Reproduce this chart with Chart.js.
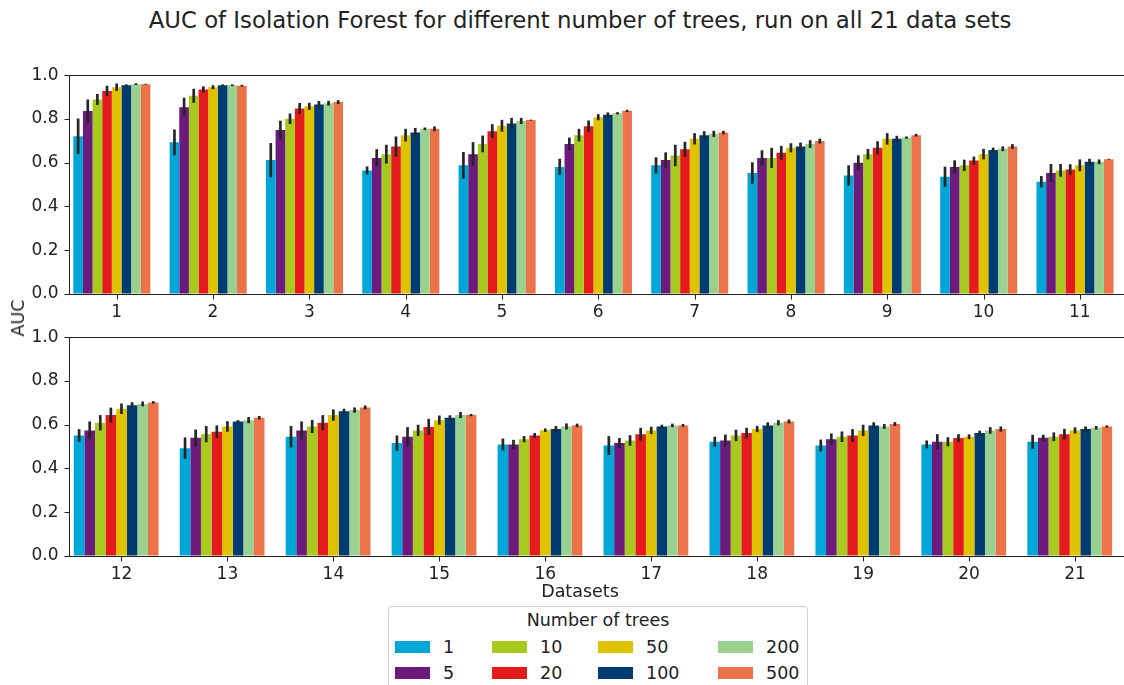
<!DOCTYPE html>
<html>
<head>
<meta charset="utf-8">
<script src="https://cdn.jsdelivr.net/npm/chart.js@4.4.1/dist/chart.umd.min.js"></script>
<style>
body { margin:0; background:#fff; font-family:"DejaVu Sans", sans-serif; color:#222; }
#page { position:relative; width:1124px; height:685px; overflow:hidden; background:#fff; }
.abs { position:absolute; }
#title { left:0; top:9px; width:1160px; text-align:center; font-size:22.8px; line-height:23px; }
#topWrap { left:0; top:60px; }
#bottomWrap { left:0; top:322px; }
#ylabel { left:18px; top:318px; font-size:17.5px; transform:translate(-50%,-50%) rotate(-90deg); white-space:nowrap; }
#xlabel { left:0; top:583px; width:1160px; text-align:center; font-size:17.5px; line-height:17px; }
#legend { left:388px; top:606px; width:420px; height:100px; border:1px solid #d0d0d0; border-radius:4px; box-sizing:border-box; }
#legendTitle { position:absolute; left:0; top:5px; width:100%; text-align:center; font-size:17.5px; line-height:17px; }
.entry { position:absolute; height:12px; display:flex; align-items:center; font-size:17.5px; }
.swatch { width:35px; height:12px; margin-right:13px; }
</style>
</head>
<body>
<div id="page">
  <div class="abs" id="title">AUC of Isolation Forest for different number of trees, run on all 21 data sets</div>
  <div class="abs" id="topWrap"><canvas id="topChart" width="1140" height="270"></canvas></div>
  <div class="abs" id="bottomWrap"><canvas id="bottomChart" width="1140" height="270"></canvas></div>
  <div class="abs" id="ylabel">AUC</div>
  <div class="abs" id="xlabel">Datasets</div>
  <div class="abs" id="legend"><div id="legendTitle">Number of trees</div></div>
</div>
<script>
// data sets 1..21
const datasetNames = Array.from({length: 21}, (_, i) => String(i + 1));
const treeCounts = ["1", "5", "10", "20", "50", "100", "200", "500"];
const treeColors = ["#00a6d6", "#6d1a7d", "#a8c91e", "#e41b1d", "#e0c300", "#003b71", "#9bd18f", "#ec7249"];

// mean AUC per number of trees
const auc1   = [0.721, 0.693, 0.612, 0.565, 0.588, 0.581, 0.588, 0.553, 0.542, 0.536, 0.513, 0.551, 0.493, 0.545, 0.516, 0.510, 0.505, 0.522, 0.505, 0.510, 0.522];
const auc5   = [0.836, 0.854, 0.749, 0.622, 0.639, 0.686, 0.612, 0.622, 0.600, 0.581, 0.553, 0.574, 0.540, 0.574, 0.545, 0.510, 0.516, 0.528, 0.534, 0.522, 0.540];
const auc10  = [0.889, 0.906, 0.801, 0.639, 0.686, 0.726, 0.633, 0.622, 0.639, 0.588, 0.565, 0.609, 0.557, 0.592, 0.574, 0.534, 0.528, 0.551, 0.545, 0.522, 0.545];
const auc20  = [0.928, 0.935, 0.848, 0.674, 0.744, 0.767, 0.662, 0.645, 0.668, 0.610, 0.569, 0.644, 0.568, 0.609, 0.590, 0.551, 0.557, 0.562, 0.551, 0.539, 0.557];
const auc50  = [0.945, 0.945, 0.858, 0.726, 0.769, 0.808, 0.709, 0.668, 0.709, 0.639, 0.588, 0.673, 0.592, 0.644, 0.621, 0.575, 0.574, 0.580, 0.574, 0.545, 0.574];
const auc100 = [0.954, 0.954, 0.866, 0.738, 0.779, 0.819, 0.726, 0.674, 0.709, 0.658, 0.604, 0.689, 0.615, 0.661, 0.632, 0.580, 0.592, 0.597, 0.597, 0.562, 0.580];
const auc200 = [0.959, 0.954, 0.872, 0.755, 0.791, 0.826, 0.732, 0.685, 0.715, 0.664, 0.604, 0.695, 0.621, 0.667, 0.644, 0.592, 0.597, 0.609, 0.592, 0.574, 0.586];
const auc500 = [0.959, 0.952, 0.877, 0.755, 0.795, 0.837, 0.738, 0.699, 0.726, 0.674, 0.616, 0.702, 0.632, 0.679, 0.644, 0.597, 0.597, 0.615, 0.603, 0.580, 0.592];

// half length of the confidence interval
const ci1   = [0.081, 0.059, 0.078, 0.018, 0.061, 0.037, 0.037, 0.049, 0.046, 0.046, 0.026, 0.029, 0.049, 0.049, 0.035, 0.027, 0.043, 0.023, 0.027, 0.018, 0.032];
const ci5   = [0.053, 0.043, 0.043, 0.040, 0.055, 0.029, 0.035, 0.035, 0.034, 0.030, 0.041, 0.041, 0.038, 0.041, 0.044, 0.021, 0.023, 0.027, 0.026, 0.035, 0.014];
const ci10  = [0.025, 0.032, 0.024, 0.043, 0.038, 0.029, 0.049, 0.046, 0.024, 0.026, 0.029, 0.035, 0.037, 0.030, 0.026, 0.014, 0.024, 0.026, 0.024, 0.021, 0.020];
const ci20  = [0.024, 0.014, 0.025, 0.046, 0.032, 0.026, 0.034, 0.032, 0.030, 0.018, 0.024, 0.034, 0.029, 0.035, 0.037, 0.011, 0.029, 0.024, 0.029, 0.018, 0.024];
const ci50  = [0.017, 0.009, 0.016, 0.029, 0.027, 0.014, 0.026, 0.021, 0.026, 0.024, 0.027, 0.024, 0.024, 0.026, 0.021, 0.008, 0.017, 0.014, 0.026, 0.011, 0.014];
const ci100 = [0.004, 0.004, 0.016, 0.021, 0.026, 0.011, 0.018, 0.018, 0.014, 0.011, 0.014, 0.014, 0.006, 0.012, 0.011, 0.014, 0.008, 0.014, 0.014, 0.011, 0.012];
const ci200 = [0.004, 0.004, 0.011, 0.006, 0.014, 0.005, 0.014, 0.018, 0.005, 0.011, 0.011, 0.011, 0.014, 0.012, 0.014, 0.014, 0.008, 0.012, 0.011, 0.015, 0.008];
const ci500 = [0.002, 0.004, 0.009, 0.011, 0.002, 0.005, 0.008, 0.011, 0.006, 0.011, 0.002, 0.006, 0.008, 0.009, 0.005, 0.008, 0.006, 0.009, 0.009, 0.012, 0.005];

const yTicks = [0, 0.2, 0.4, 0.6, 0.8, 1.0];

const aucSeries = [auc1, auc5, auc10, auc20, auc50, auc100, auc200, auc500];
const ciSeries  = [ci1, ci5, ci10, ci20, ci50, ci100, ci200, ci500];

// the hue groups sit half a bar left of their tick (old seaborn layout)
const groupWidth = 0.8;
const tickShift = groupWidth / treeCounts.length / 2;
const tickLen = 5;

Chart.defaults.font.family = "'DejaVu Sans', sans-serif";
Chart.defaults.color = "#222";

// error bars, tick marks and the axes frame
const errorBars = {
  id: "errorBars",
  afterDatasetsDraw(chart) {
    const ctx = chart.ctx;
    const x = chart.scales.x, y = chart.scales.y;
    const a = chart.chartArea;
    ctx.save();
    ctx.strokeStyle = "#262626";
    ctx.lineWidth = 2.7;
    chart.data.datasets.forEach((ds, i) => {
      const meta = chart.getDatasetMeta(i);
      meta.data.forEach((bar, j) => {
        const v = ds.data[j].y, e = ds.ci[j];
        ctx.beginPath();
        ctx.moveTo(bar.x, y.getPixelForValue(v + e));
        ctx.lineTo(bar.x, y.getPixelForValue(v - e));
        ctx.stroke();
      });
    });

    ctx.strokeStyle = "#222";
    ctx.lineWidth = 1;
    const left = Math.round(a.left) + 0.5, bottom = Math.round(a.bottom) + 0.5;
    ctx.beginPath();
    x.ticks.forEach(t => {
      const px = Math.round(x.getPixelForValue(t.value)) + 0.5;
      ctx.moveTo(px, bottom);
      ctx.lineTo(px, bottom + tickLen);
    });
    y.ticks.forEach(t => {
      const py = Math.round(y.getPixelForValue(t.value)) + 0.5;
      ctx.moveTo(left - tickLen, py);
      ctx.lineTo(left, py);
    });
    ctx.stroke();
    ctx.strokeRect(left, Math.round(a.top) + 0.5,
                   Math.round(a.right - a.left), Math.round(a.bottom - a.top));
    ctx.restore();
  }
};

// space for the tick marks is kept by the grid, the marks themselves come from the plugin
const hiddenGrid = { display: true, offset: false, drawOnChartArea: false, drawTicks: true, tickLength: tickLen, tickColor: "rgba(0,0,0,0)" };

function makeChart(id, from, to) {
  const names = datasetNames.slice(from, to);
  return new Chart(document.getElementById(id), {
    type: "bar",
    data: {
      datasets: treeCounts.map((t, i) => ({
        label: t,
        data: aucSeries[i].slice(from, to).map((v, j) => ({ x: j, y: v })),
        ci: ciSeries[i].slice(from, to),
        backgroundColor: treeColors[i],
        borderWidth: 0,
        categoryPercentage: groupWidth,
        barPercentage: 1.0
      }))
    },
    options: {
      responsive: false,
      animation: false,
      devicePixelRatio: 1,
      layout: { padding: { top: 15, right: 12, left: 0, bottom: 0 } },
      plugins: { legend: { display: false }, tooltip: { enabled: false } },
      scales: {
        x: {
          type: "linear",
          offset: false,
          min: -0.5 + tickShift,
          max: names.length - 0.5 + tickShift,
          border: { display: false },
          grid: hiddenGrid,
          afterBuildTicks(scale) { scale.ticks = names.map((n, j) => ({ value: j + tickShift })); },
          ticks: { font: { size: 17 }, padding: 3, maxRotation: 0, callback: (v, idx) => names[idx] },
          afterFit(scale) { scale.height = 36; }
        },
        y: {
          min: 0, max: 1,
          border: { display: false },
          grid: hiddenGrid,
          afterBuildTicks(scale) { scale.ticks = yTicks.map(v => ({ value: v })); },
          ticks: { font: { size: 17 }, padding: 5, callback: v => v.toFixed(1) },
          afterFit(scale) { scale.width = 68.5; }
        }
      }
    },
    plugins: [errorBars]
  });
}

makeChart("topChart", 0, 11);
makeChart("bottomChart", 11, 21);

// legend: two rows, filled column by column
const colLeft = [6, 103, 209, 329];
const rowTop = [34, 60];
const legendEl = document.getElementById("legend");
treeCounts.forEach((t, i) => {
  const entry = document.createElement("div");
  entry.className = "entry";
  entry.style.left = colLeft[Math.floor(i / 2)] + "px";
  entry.style.top = rowTop[i % 2] + "px";
  const sw = document.createElement("div");
  sw.className = "swatch";
  sw.style.background = treeColors[i];
  const lab = document.createElement("span");
  lab.textContent = t;
  entry.appendChild(sw);
  entry.appendChild(lab);
  legendEl.appendChild(entry);
});
</script>
</body>
</html>
